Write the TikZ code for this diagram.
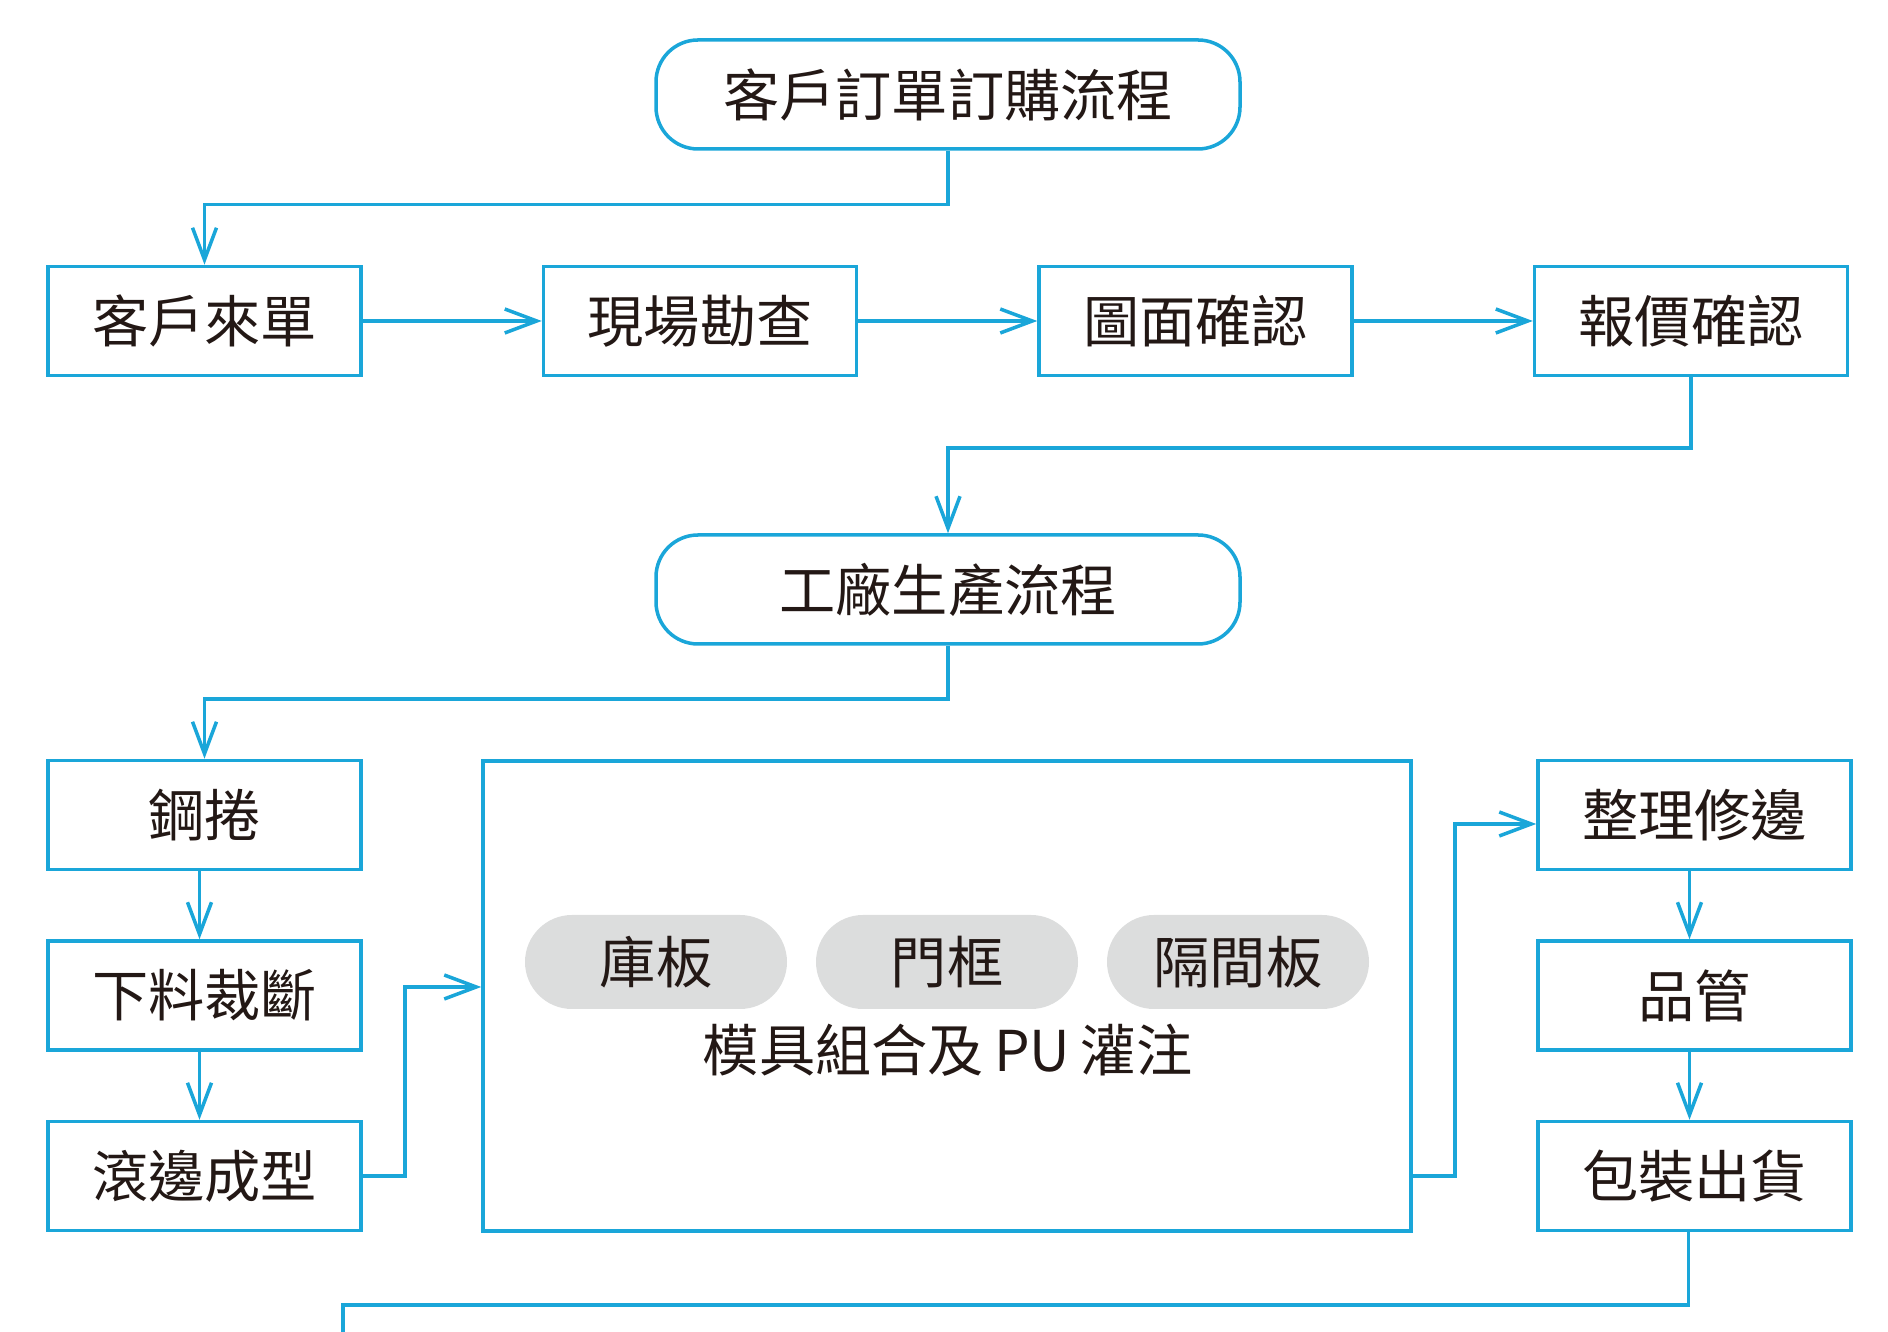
\documentclass[tikz,border=0pt]{standalone}
\usepackage{fontspec}
\newfontfamily\cjk{Noto Sans CJK TC}
\usepackage{tikz}
\usetikzlibrary{arrows.meta, positioning, calc}
\definecolor{flowblue}{HTML}{1AA6D9}
\definecolor{inkdark}{HTML}{231815}
\definecolor{partgray}{HTML}{DCDDDD}

\begin{document}
\begin{tikzpicture}[
    >={Straight Barb[length=3.2mm, width=2.4mm]},
    every node/.style={font=\cjk\fontsize{16}{19}\selectfont, text=inkdark},
    flowpill/.style={
        rectangle, rounded corners=0.42cm, draw=flowblue, line width=1pt,
        minimum width=5.84cm, minimum height=1.09cm, align=center
    },
    procbox/.style={
        rectangle, draw=flowblue, line width=1pt,
        minimum width=3.13cm, minimum height=1.09cm, align=center
    },
    partpill/.style={
        rectangle, rounded corners=0.47cm, fill=partgray,
        minimum width=2.62cm, minimum height=0.94cm
    },
    flow/.style={->, draw=flowblue, line width=1pt},
]
\useasboundingbox (0,0) rectangle (18.88,-13.32);

% ── Order flow ──
\node[flowpill] (order) at (9.48,-0.945) {客戶訂單訂購流程};
\node[procbox] (req) at (2.045,-3.21) {客戶來單};
\node[procbox, right=1.79cm of req] (survey) {現場勘查};
\node[procbox, right=1.79cm of survey] (drawing) {圖面確認};
\node[procbox, right=1.79cm of drawing] (quote) {報價確認};

% ── Factory flow ──
\node[flowpill] (factory) at (9.48,-5.895) {工廠生產流程};
\node[procbox] (coil) at (2.045,-8.15) {鋼捲};
\node[procbox, below=0.68cm of coil] (cut) {下料裁斷};
\node[procbox, below=0.68cm of cut] (roll) {滾邊成型};

\node[procbox, minimum width=9.28cm, minimum height=4.70cm] (mold) at (9.47,-9.96) {};
\node[partpill] (panel) at (6.56,-9.62) {庫板};
\node[partpill] (frame) at (9.47,-9.62) {門框};
\node[partpill] (divider) at (12.38,-9.62) {隔間板};
\node (moldlbl) at (9.48,-10.50) {模具組合及\hspace{0.18em}PU\hspace{0.18em}灌注};

\node[procbox] (trim) at (16.945,-8.15) {整理修邊};
\node[procbox, below=0.68cm of trim] (qc) {品管};
\node[procbox, below=0.68cm of qc] (ship) {包裝出貨};
\coordinate (next) at (3.43,-13.32);

% ── Edges ──
\draw[flow] (order.south) -- ++(0,-0.54) -| (req.north);
\draw[flow] (req) -- (survey);
\draw[flow] (survey) -- (drawing);
\draw[flow] (drawing) -- (quote);
\draw[flow] (quote.south) -- ++(0,-0.71) -| (factory.north);
\draw[flow] (factory.south) -- ++(0,-0.53) -| (coil.north);
\draw[flow] ([xshift=-0.05cm]coil.south) -- ([xshift=-0.05cm]cut.north);
\draw[flow] ([xshift=-0.05cm]cut.south) -- ([xshift=-0.05cm]roll.north);
\draw[flow] (roll.east) -- ++(0.42,0) |- ([yshift=0.09cm]mold.west);
\draw[flow] (mold.east |- roll.east) -- ++(0.42,0) |- ([yshift=-0.09cm]trim.west);
\draw[flow] ([xshift=-0.05cm]trim.south) -- ([xshift=-0.05cm]qc.north);
\draw[flow] ([xshift=-0.05cm]qc.south) -- ([xshift=-0.05cm]ship.north);
\draw[draw=flowblue, line width=1pt] ([xshift=-0.06cm]ship.south) |- ($(next)+(0,0.27)$) -- (next);

\end{tikzpicture}
\end{document}
